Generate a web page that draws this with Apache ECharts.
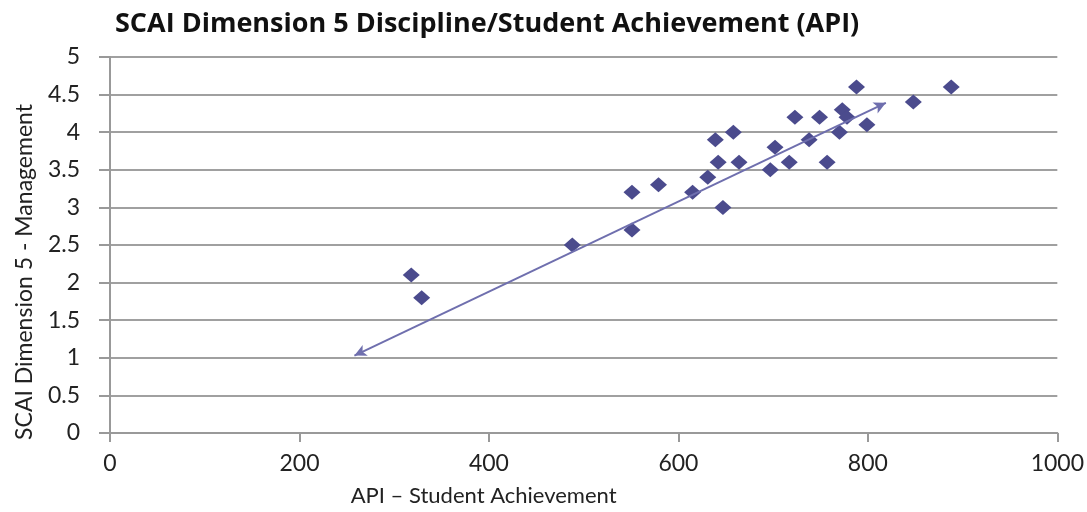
<!DOCTYPE html>
<html>
<head>
<meta charset="utf-8">
<script src="https://cdn.jsdelivr.net/npm/echarts@6/dist/echarts.min.js"></script>
<style>
html,body{margin:0;padding:0;background:#fff;}
#c{width:1087px;height:512px;}
</style>
</head>
<body>
<div id="c"></div>
<script>
const titleText = 'SCAI Dimension 5 Discipline/Student Achievement (API)';
const xAxisName = 'API \u2013 Student Achievement';
const yAxisName = 'SCAI Dimension 5 - Management';
const apiValues = [318, 329, 488, 551, 551, 579, 615, 631, 639, 642, 647, 658, 664, 697, 702, 717, 723, 738, 749, 757, 770, 773, 778, 788, 799, 848, 888];
const scaiValues = [2.1, 1.8, 2.5, 2.7, 3.2, 3.3, 3.2, 3.4, 3.9, 3.6, 3.0, 4.0, 3.6, 3.5, 3.8, 3.6, 4.2, 3.9, 4.2, 3.6, 4.0, 4.3, 4.2, 4.6, 4.1, 4.4, 4.6];
const arrowStart = [258, 1.03];
const arrowEnd = [819, 4.39];

const points = apiValues.map((v, i) => [v, scaiValues[i]]);
const font = 'Lato, "Open Sans", sans-serif';

const chart = echarts.init(document.getElementById('c'));
chart.setOption({
  animation: false,
  backgroundColor: '#ffffff',
  title: {
    text: titleText,
    left: 110,
    top: 6,
    textStyle: { fontFamily: '"Open Sans", Lato, sans-serif', fontSize: 27, fontWeight: 'bold', color: '#111' }
  },
  grid: { left: 110, right: 29, top: 57, bottom: 77 },
  xAxis: {
    type: 'value',
    min: 0, max: 1000, interval: 200,
    name: xAxisName,
    nameLocation: 'middle',
    nameGap: 52,
    nameTextStyle: { fontFamily: font, fontSize: 22, color: '#222', padding: [0, 0, 0, -200] },
    axisLine: { show: true, lineStyle: { color: '#999', width: 2 } },
    axisTick: { show: true, length: 9, lineStyle: { color: '#999', width: 2 } },
    axisLabel: { fontFamily: font, fontSize: 23, color: '#222', margin: 19, formatter: v => String(v) },
    splitLine: { show: false }
  },
  yAxis: {
    type: 'value',
    min: 0, max: 5, interval: 0.5,
    name: yAxisName,
    nameLocation: 'middle',
    nameGap: 74,
    nameRotate: 90,
    nameTextStyle: { fontFamily: font, fontSize: 23, color: '#222', padding: [0, 0, 0, -54] },
    axisLine: { show: true, lineStyle: { color: '#999', width: 2 } },
    axisTick: { show: true, length: 11, lineStyle: { color: '#999', width: 2 } },
    axisLabel: { fontFamily: font, fontSize: 23, color: '#222', margin: 30 },
    splitLine: { show: true, lineStyle: { color: '#a0a0a0', width: 2 } }
  },
  series: [{
    type: 'scatter',
    data: points,
    symbol: 'diamond',
    symbolSize: [17, 15],
    itemStyle: { color: '#4b4b8d', opacity: 1 },
    markLine: {
      silent: true,
      symbol: ['arrow', 'arrow'],
      symbolSize: [9, 12],
      label: { show: false },
      lineStyle: { color: '#6f6fae', width: 2, type: 'solid' },
      data: [[{ coord: arrowStart }, { coord: arrowEnd }]]
    },
    z: 3
  }]
});
</script>
</body>
</html>
